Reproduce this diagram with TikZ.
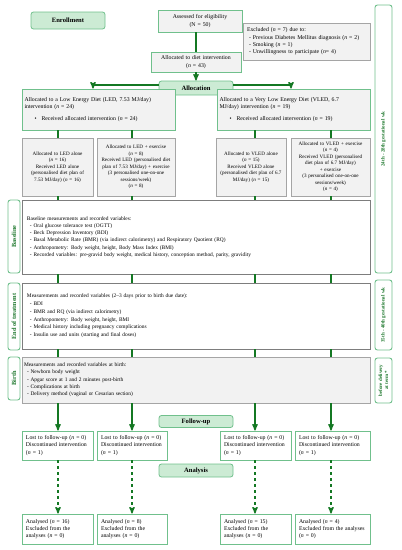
\documentclass[tikz,border=0pt]{standalone}
\usepackage{fontspec}
\setmainfont{Liberation Serif}
\usepackage{tikz}
\usetikzlibrary{arrows,positioning}

\definecolor{boxgreen}{RGB}{112,192,140}
\definecolor{stagefill}{RGB}{204,235,212}
\definecolor{boxgray}{RGB}{242,242,242}
\definecolor{linegray}{RGB}{165,165,165}
\definecolor{framegray}{RGB}{125,125,125}
\definecolor{arrowgreen}{RGB}{20,120,35}
\definecolor{periodgreen}{RGB}{30,120,45}

\begin{document}
\begin{tikzpicture}[x=1pt,y=-1pt,>=stealth',semithick,
                    font=\fontsize{5.8}{7.3}\selectfont]
  \tikzstyle{stage}=[draw=boxgreen,fill=stagefill,rounded corners=2.5pt,line width=0.8pt,
                     font=\fontsize{6.6}{8}\selectfont\bfseries,inner sep=0pt]
  \tikzstyle{greenbox}=[draw=boxgreen,fill=boxgray,line width=0.9pt,inner sep=2.5pt]
  \tikzstyle{graybox}=[draw=linegray,fill=boxgray,line width=0.7pt,inner sep=2pt,
                       align=center,minimum height=58pt,font=\fontsize{5.1}{6.5}\selectfont]
  \tikzstyle{measure}=[draw=framegray,fill=white,line width=0.7pt,inner sep=5pt,align=left,
                       font=\fontsize{5.4}{7.3}\selectfont]
  \tikzstyle{outcome}=[draw=boxgreen,fill=white,line width=0.9pt,inner sep=4pt,align=left]
  \tikzstyle{period}=[draw=boxgreen,fill=white,rounded corners=2.5pt,rotate=90,
                      line width=0.9pt,text=periodgreen,inner sep=0pt,align=center]
  \tikzstyle{link}=[draw=arrowgreen,line width=1.3pt]

  \useasboundingbox (0,0) rectangle (402,550);

  \coordinate (colA) at (58,0);
  \coordinate (colB) at (132,0);
  \coordinate (colC) at (255,0);
  \coordinate (colD) at (331,0);
  \coordinate (ledin) at (93,0);
  \coordinate (vledin) at (291,0);
  \coordinate (split) at (0,85);

  \node[stage,minimum width=74pt,minimum height=17pt] (enroll) at (68,20.5) {Enrollment};
  \node[greenbox,align=center,text width=79pt,minimum height=22pt] (assess) at (200,21)
    {Assessed for eligibility\\(N = 50)};
  \node[graybox,align=left,inner sep=4pt,text width=119pt,minimum height=37pt,
        font=\fontsize{5.8}{7.3}\selectfont] (excluded) at (306.5,41.5)
    {Excluded (\textit{n} = 7) due to:\\
     \hspace*{2pt}- Previous Diabetes Mellitus diagnosis (\textit{n} = 2)\\
     \hspace*{2pt}- Smoking (\textit{n} = 1)\\
     \hspace*{2pt}- Unwillingness to participate (\textit{n}= 4)};
  \node[greenbox,align=center,text width=85pt,minimum height=20pt] (diet) at (196,62)
    {Allocated to diet intervention\\(\textit{n} = 43)};
  \node[stage,minimum width=74pt,minimum height=14pt] (allocation) at (196,88) {Allocation};

  \node[greenbox,align=left,text width=148pt,minimum height=41pt] (led) at (98.5,109.5)
    {\makebox[148pt][s]{Allocated to a Low Energy Diet (LED, 7.53 MJ/day)}\\
     intervention (\textit{n} = 24)\\[4pt]
     \hspace*{10pt}\textbullet\hspace{5pt}Received allocated intervention (\textit{n} = 24)};
  \node[greenbox,align=left,text width=148pt,minimum height=41pt] (vled) at (293.5,109.5)
    {Allocated to a Very Low Energy Diet (VLED, 6.7\\
     MJ/day) intervention (\textit{n} = 19)\\[4pt]
     \hspace*{10pt}\textbullet\hspace{5pt}Received allocated intervention (\textit{n} = 19)};

  \node[graybox,text width=67pt] (ledalone) at (57.5,167)
    {Allocated to LED alone\\(\textit{n} = 16)\\Received LED alone\\
     (personalised diet plan of\\7.53 MJ/day) (\textit{n} = 16)};
  \node[graybox,text width=74pt] (ledex) at (136,167)
    {Allocated to LED + exercise\\(\textit{n} = 8)\\Received LED (personalised diet\\
     plan of 7.53 MJ/day) + exercise\\(3 personalised one-on-one\\sessions/week)\\
     (\textit{n} = 8)};
  \node[graybox,text width=66pt] (vledalone) at (251,167)
    {Allocated to VLED alone\\(\textit{n} = 15)\\Received VLED alone\\
     (personalised diet plan of 6.7\\MJ/day) (\textit{n} = 15)};
  \node[graybox,text width=75pt] (vledex) at (330.5,167)
    {Allocated to VLED + exercise\\(\textit{n} = 4)\\Received VLED (personalised\\
     diet plan of 6.7 MJ/day)\\+ exercise\\(3 personalised one-on-one\\
     sessions/week)\\(\textit{n} = 4)};

  \node[measure,text width=338pt,minimum height=74pt] (baseline) at (196,237)
    {Baseline measurements and recorded variables:\\
     \hspace*{3pt}- Oral glucose tolerance test (OGTT)\\
     \hspace*{3pt}- Beck Depression Inventory (BDI)\\
     \hspace*{3pt}- Basal Metabolic Rate (BMR) (via indirect calorimetry) and Respiratory Quotient (RQ)\\
     \hspace*{3pt}- Anthropometry: Body weight, height, Body Mass Index (BMI)\\
     \hspace*{3pt}- Recorded variables: pre-gravid body weight, medical history, conception method, parity, gravidity};
  \node[measure,text width=338pt,minimum height=66pt,
        font=\fontsize{5.4}{7.8}\selectfont] (endtreat) at (196,316)
    {Measurements and recorded variables (2--3 days prior to birth due date):\\
     \hspace*{3pt}- BDI\\
     \hspace*{3pt}- BMR and RQ (via indirect calorimetry)\\
     \hspace*{3pt}- Anthropometry: Body weight, height, BMI\\
     \hspace*{3pt}- Medical history including pregnancy complications\\
     \hspace*{3pt}- Insulin use and units (starting and final doses)};
  \node[measure,fill=boxgray,draw=linegray,inner sep=2pt,text width=344pt,
        minimum height=46pt] (birth) at (196,380)
    {Measurements and recorded variables at birth:\\
     \hspace*{3pt}- Newborn body weight\\
     \hspace*{3pt}- Apgar score at 1 and 2 minutes post-birth\\
     \hspace*{3pt}- Complications at birth\\
     \hspace*{3pt}- Delivery method (vaginal or Cesarian section)};

  \node[period,minimum width=73pt,minimum height=12pt,
        font=\fontsize{6.3}{7}\selectfont\bfseries] (lbase) at (14,236.5) {Baseline};
  \node[period,minimum width=67pt,minimum height=12pt,
        font=\fontsize{6.3}{7}\selectfont\bfseries] (lend) at (14,316.5) {End of treatment};
  \node[period,minimum width=43pt,minimum height=12pt,
        font=\fontsize{6.3}{7}\selectfont\bfseries] (lbirth) at (14,378.5) {Birth};
  \node[period,minimum width=268pt,minimum height=17pt,
        font=\fontsize{5}{6}\selectfont\bfseries] (wkearly) at (383.5,139)
    {24th - 28th gestational wk};
  \node[period,minimum width=70pt,minimum height=17pt,
        font=\fontsize{5}{6}\selectfont\bfseries] (wklate) at (383.5,315)
    {35th - 40th gestational wk};
  \node[period,minimum width=45pt,minimum height=17pt,
        font=\fontsize{5}{6}\selectfont\bfseries] (wkterm) at (383.5,380.5)
    {before delivery\\at term*};

  \node[stage,minimum width=74pt,minimum height=12pt] (followup) at (196,421.5) {Follow-up};
  \node[outcome,text width=63pt,minimum height=29pt] (lostA) at (57.5,445.5)
    {Lost to follow-up (\textit{n} = 0)\\Discontinued intervention\\(\textit{n} = 1)};
  \node[outcome,text width=62pt,minimum height=29pt] (lostB) at (132,445.5)
    {Lost to follow-up (\textit{n} = 0)\\Discontinued intervention\\(\textit{n} = 1)};
  \node[outcome,text width=63pt,minimum height=29pt] (lostC) at (255.5,445.5)
    {Lost to follow-up (\textit{n} = 0)\\Discontinued intervention\\(\textit{n} = 1)};
  \node[outcome,text width=67pt,minimum height=29pt] (lostD) at (332.5,445.5)
    {Lost to follow-up (\textit{n} = 0)\\Discontinued intervention\\(\textit{n} = 1)};

  \node[stage,minimum width=74pt,minimum height=13pt] (analysis) at (196,470.5) {Analysis};
  \node[outcome,text width=63pt,minimum height=30pt] (doneA) at (57.5,529)
    {Analysed (\textit{n} = 16)\\Excluded from the\\analyses (\textit{n} = 0)};
  \node[outcome,text width=62pt,minimum height=30pt] (doneB) at (132,529)
    {Analysed (\textit{n} = 8)\\Excluded from the\\analyses (\textit{n} = 0)};
  \node[outcome,text width=63pt,minimum height=30pt] (doneC) at (255.5,529)
    {Analysed (\textit{n} = 15)\\Excluded from the\\analyses (\textit{n} = 0)};
  \node[outcome,text width=67pt,minimum height=30pt] (doneD) at (332.5,529)
    {Analysed (\textit{n} = 4)\\Excluded from the analyses\\(\textit{n} = 0)};

  \draw[link] (assess.south -| diet) -- (diet);
  \draw[link,->] (diet) -- (allocation);
  \draw[link,->] (allocation.west |- split) -| (led.north -| ledin);
  \draw[link,->] (allocation.east |- split) -| (vled.north -| vledin);

  \path (led.south -| colA) edge[link] (ledalone.north -| colA)
        (led.south -| colB) edge[link] (ledex.north -| colB)
        (vled.south -| colC) edge[link] (vledalone.north -| colC)
        (vled.south -| colD) edge[link] (vledex.north -| colD)
        (ledalone.south -| colA) edge[link] (baseline.north -| colA)
        (ledex.south -| colB) edge[link] (baseline.north -| colB)
        (vledalone.south -| colC) edge[link] (baseline.north -| colC)
        (vledex.south -| colD) edge[link] (baseline.north -| colD)
        (baseline.south -| colA) edge[link] (endtreat.north -| colA)
        (baseline.south -| colB) edge[link] (endtreat.north -| colB)
        (baseline.south -| colC) edge[link] (endtreat.north -| colC)
        (baseline.south -| colD) edge[link] (endtreat.north -| colD)
        (endtreat.south -| colA) edge[link] (birth.north -| colA)
        (endtreat.south -| colB) edge[link] (birth.north -| colB)
        (endtreat.south -| colC) edge[link] (birth.north -| colC)
        (endtreat.south -| colD) edge[link] (birth.north -| colD);

  \path (birth.south -| colA) edge[link,->] (lostA.north -| colA)
        (birth.south -| colB) edge[link,->] (lostB.north -| colB)
        (birth.south -| colC) edge[link,->] (lostC.north -| colC)
        (birth.south -| colD) edge[link,->] (lostD.north -| colD)
        (lostA.south -| colA) edge[link,->,dashed] (doneA.north -| colA)
        (lostB.south -| colB) edge[link,->,dashed] (doneB.north -| colB)
        (lostC.south -| colC) edge[link,->,dashed] (doneC.north -| colC)
        (lostD.south -| colD) edge[link,->,dashed] (doneD.north -| colD);

\end{tikzpicture}
\end{document}
